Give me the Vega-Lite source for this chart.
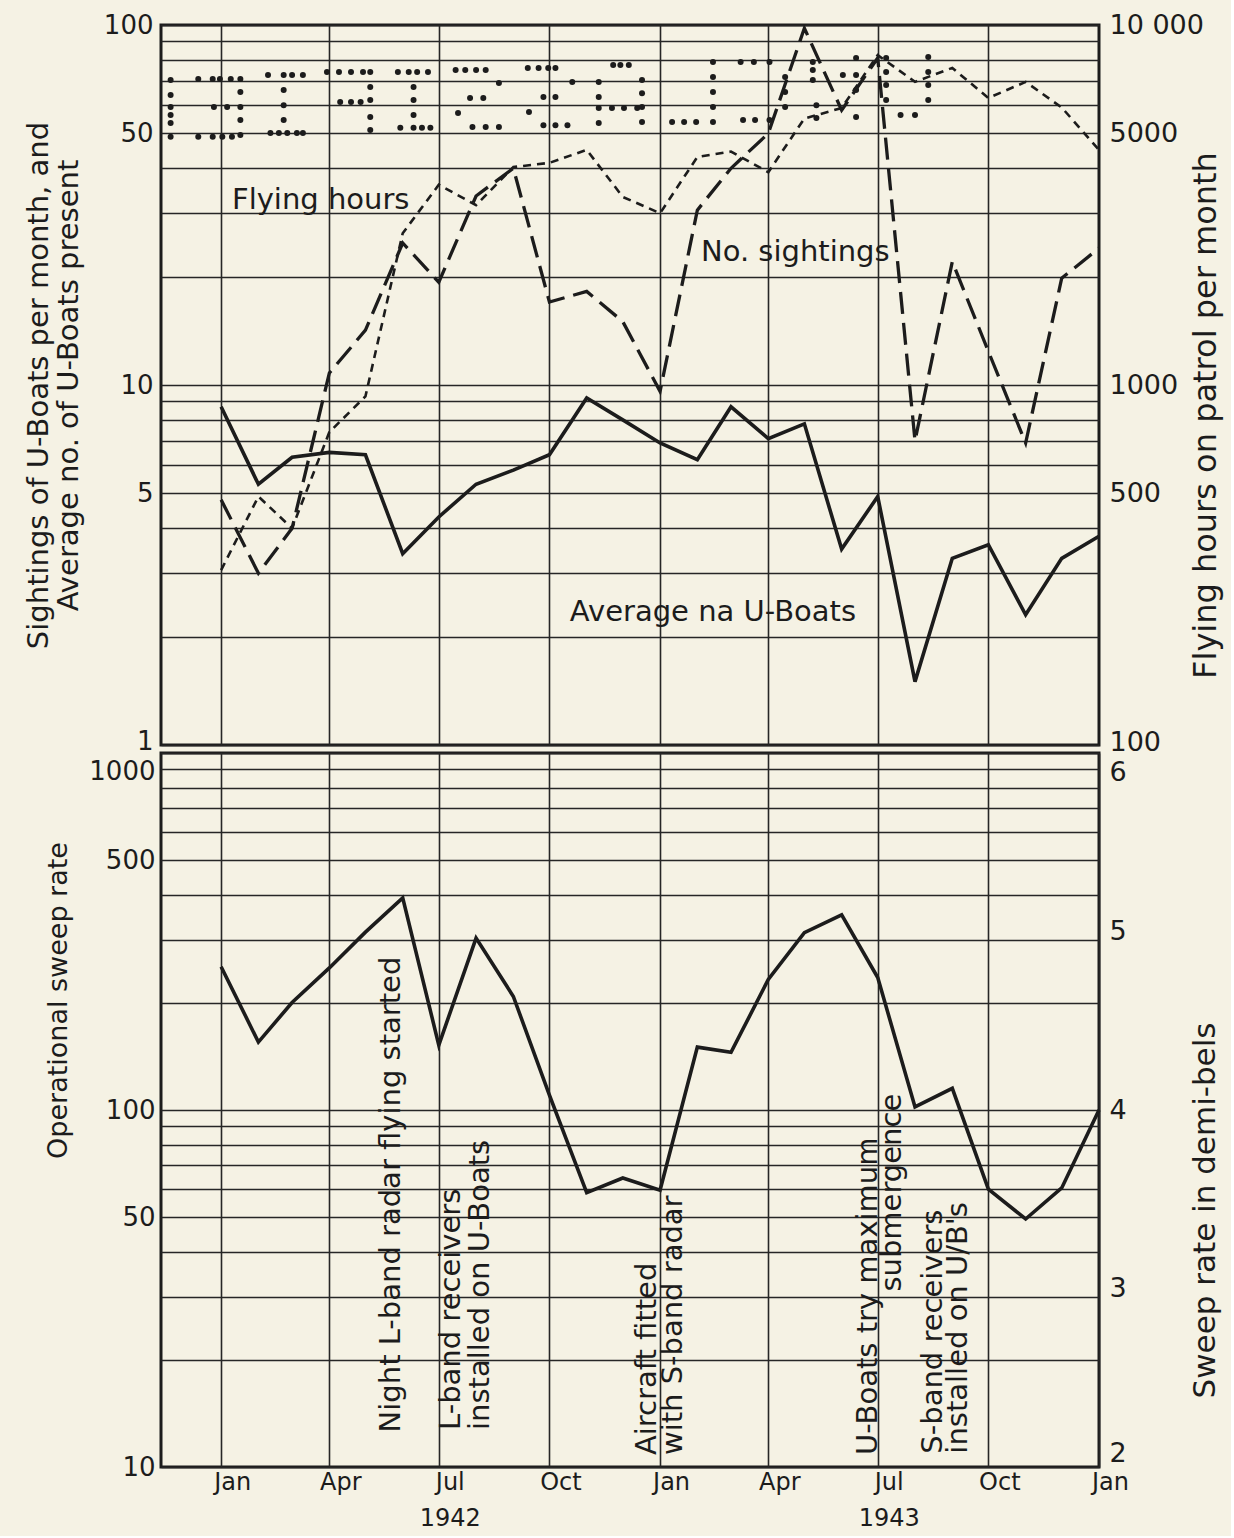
{
  "$schema": "https://vega.github.io/schema/vega-lite/v6.json",
  "background": "#f5f2e4",
  "padding": {"left": 22, "top": 9, "right": 8, "bottom": 4},
  "config": {
    "font": "DejaVu Sans",
    "view": {"stroke": "#1c1c1c", "strokeWidth": 3},
    "axis": {
      "labelFont": "DejaVu Sans", "labelFontSize": 26, "labelColor": "#1c1c1c",
      "titleFont": "DejaVu Sans", "titleFontSize": 29, "titleFontWeight": "normal", "titleColor": "#1c1c1c",
      "gridColor": "#262626", "gridWidth": 1.6, "gridOpacity": 1,
      "domain": false, "ticks": false, "labelOverlap": false, "labelBound": false, "labelFlush": false
    },
    "text": {"font": "DejaVu Sans", "color": "#1c1c1c"}
  },
  "datasets": {
    "sightings": [
      {"date": "1942-01-01", "value": 4.8}, {"date": "1942-02-01", "value": 3.0}, {"date": "1942-03-01", "value": 4.0},
      {"date": "1942-04-01", "value": 10.8}, {"date": "1942-05-01", "value": 14.2}, {"date": "1942-06-01", "value": 24.8},
      {"date": "1942-07-01", "value": 19.3}, {"date": "1942-08-01", "value": 33.5}, {"date": "1942-09-01", "value": 40},
      {"date": "1942-10-01", "value": 17}, {"date": "1942-11-01", "value": 18.2}, {"date": "1942-12-01", "value": 15},
      {"date": "1943-01-01", "value": 9.6}, {"date": "1943-02-01", "value": 30.6}, {"date": "1943-03-01", "value": 40},
      {"date": "1943-04-01", "value": 50}, {"date": "1943-05-01", "value": 98}, {"date": "1943-06-01", "value": 58},
      {"date": "1943-07-01", "value": 81}, {"date": "1943-08-01", "value": 7.0}, {"date": "1943-09-01", "value": 22},
      {"date": "1943-10-01", "value": 12.4}, {"date": "1943-11-01", "value": 6.9}, {"date": "1943-12-01", "value": 19.8},
      {"date": "1944-01-01", "value": 24}
    ],
    "uboats": [
      {"date": "1942-01-01", "value": 8.7}, {"date": "1942-02-01", "value": 5.3}, {"date": "1942-03-01", "value": 6.3},
      {"date": "1942-04-01", "value": 6.5}, {"date": "1942-05-01", "value": 6.4}, {"date": "1942-06-01", "value": 3.4},
      {"date": "1942-07-01", "value": 4.3}, {"date": "1942-08-01", "value": 5.3}, {"date": "1942-09-01", "value": 5.8},
      {"date": "1942-10-01", "value": 6.4}, {"date": "1942-11-01", "value": 9.2}, {"date": "1942-12-01", "value": 8.0},
      {"date": "1943-01-01", "value": 6.9}, {"date": "1943-02-01", "value": 6.2}, {"date": "1943-03-01", "value": 8.7},
      {"date": "1943-04-01", "value": 7.1}, {"date": "1943-05-01", "value": 7.8}, {"date": "1943-06-01", "value": 3.5},
      {"date": "1943-07-01", "value": 4.9}, {"date": "1943-08-01", "value": 1.5}, {"date": "1943-09-01", "value": 3.3},
      {"date": "1943-10-01", "value": 3.6}, {"date": "1943-11-01", "value": 2.3}, {"date": "1943-12-01", "value": 3.3},
      {"date": "1944-01-01", "value": 3.8}
    ],
    "hours": [
      {"date": "1942-01-01", "hours": 306}, {"date": "1942-02-01", "hours": 490}, {"date": "1942-03-01", "hours": 400},
      {"date": "1942-04-01", "hours": 740}, {"date": "1942-05-01", "hours": 930}, {"date": "1942-06-01", "hours": 2640},
      {"date": "1942-07-01", "hours": 3600}, {"date": "1942-08-01", "hours": 3160}, {"date": "1942-09-01", "hours": 4030},
      {"date": "1942-10-01", "hours": 4140}, {"date": "1942-11-01", "hours": 4500}, {"date": "1942-12-01", "hours": 3330},
      {"date": "1943-01-01", "hours": 3000}, {"date": "1943-02-01", "hours": 4300}, {"date": "1943-03-01", "hours": 4450},
      {"date": "1943-04-01", "hours": 3900}, {"date": "1943-05-01", "hours": 5500}, {"date": "1943-06-01", "hours": 5880},
      {"date": "1943-07-01", "hours": 8250}, {"date": "1943-08-01", "hours": 6950}, {"date": "1943-09-01", "hours": 7600},
      {"date": "1943-10-01", "hours": 6270}, {"date": "1943-11-01", "hours": 6950}, {"date": "1943-12-01", "hours": 5900},
      {"date": "1944-01-01", "hours": 4500}
    ],
    "sweep": [
      {"date": "1942-01-01", "rate": 252}, {"date": "1942-02-01", "rate": 155}, {"date": "1942-03-01", "rate": 200},
      {"date": "1942-04-01", "rate": 250}, {"date": "1942-05-01", "rate": 315}, {"date": "1942-06-01", "rate": 393},
      {"date": "1942-07-01", "rate": 152}, {"date": "1942-08-01", "rate": 303}, {"date": "1942-09-01", "rate": 208},
      {"date": "1942-10-01", "rate": 110}, {"date": "1942-11-01", "rate": 58.7}, {"date": "1942-12-01", "rate": 64.5},
      {"date": "1943-01-01", "rate": 59.6}, {"date": "1943-02-01", "rate": 150}, {"date": "1943-03-01", "rate": 145},
      {"date": "1943-04-01", "rate": 232}, {"date": "1943-05-01", "rate": 314}, {"date": "1943-06-01", "rate": 352},
      {"date": "1943-07-01", "rate": 235}, {"date": "1943-08-01", "rate": 102}, {"date": "1943-09-01", "rate": 115},
      {"date": "1943-10-01", "rate": 60}, {"date": "1943-11-01", "rate": 49.5}, {"date": "1943-12-01", "rate": 60.5},
      {"date": "1944-01-01", "rate": 100}
    ],
    "dots": [
      {"date": "1941-11-20", "value": 70.3}, {"date": "1941-11-20", "value": 63.9}, {"date": "1941-11-20", "value": 59.2},
      {"date": "1941-11-20", "value": 56.2}, {"date": "1941-11-20", "value": 53.4}, {"date": "1941-11-20", "value": 48.9},
      {"date": "1941-12-13", "value": 70.8}, {"date": "1941-12-25", "value": 70.8}, {"date": "1941-12-31", "value": 70.8},
      {"date": "1942-01-09", "value": 70.8}, {"date": "1942-01-17", "value": 70.8},
      {"date": "1942-01-17", "value": 65.1}, {"date": "1942-01-17", "value": 59.2}, {"date": "1942-01-17", "value": 54.5},
      {"date": "1942-01-17", "value": 49.5},
      {"date": "1941-12-26", "value": 59.2}, {"date": "1942-01-06", "value": 59.2},
      {"date": "1941-12-13", "value": 48.9}, {"date": "1941-12-25", "value": 48.9}, {"date": "1942-01-02", "value": 48.9},
      {"date": "1942-01-10", "value": 48.9},
      {"date": "1942-02-09", "value": 72.6}, {"date": "1942-02-22", "value": 72.6}, {"date": "1942-03-01", "value": 72.6},
      {"date": "1942-03-10", "value": 72.6},
      {"date": "1942-02-22", "value": 66}, {"date": "1942-02-22", "value": 59.9}, {"date": "1942-02-22", "value": 54.5},
      {"date": "1942-02-11", "value": 50.1}, {"date": "1942-02-18", "value": 50.1}, {"date": "1942-02-25", "value": 50.1},
      {"date": "1942-03-05", "value": 50.1}, {"date": "1942-03-10", "value": 50.1},
      {"date": "1942-03-30", "value": 74}, {"date": "1942-04-09", "value": 74}, {"date": "1942-04-19", "value": 74},
      {"date": "1942-04-29", "value": 74}, {"date": "1942-05-05", "value": 74},
      {"date": "1942-05-05", "value": 67.3}, {"date": "1942-05-05", "value": 61.9}, {"date": "1942-05-05", "value": 55.5},
      {"date": "1942-05-05", "value": 51.1},
      {"date": "1942-04-10", "value": 61.1}, {"date": "1942-04-19", "value": 61.1}, {"date": "1942-04-27", "value": 61.1},
      {"date": "1942-05-28", "value": 74}, {"date": "1942-06-06", "value": 74}, {"date": "1942-06-13", "value": 74},
      {"date": "1942-06-22", "value": 74},
      {"date": "1942-06-10", "value": 67.3}, {"date": "1942-06-10", "value": 61.9}, {"date": "1942-06-10", "value": 56.2},
      {"date": "1942-06-10", "value": 51.8},
      {"date": "1942-05-30", "value": 51.8}, {"date": "1942-06-17", "value": 51.8}, {"date": "1942-06-24", "value": 51.8},
      {"date": "1942-07-15", "value": 75}, {"date": "1942-07-23", "value": 75}, {"date": "1942-08-01", "value": 75},
      {"date": "1942-08-09", "value": 75}, {"date": "1942-08-20", "value": 69},
      {"date": "1942-07-27", "value": 62.7}, {"date": "1942-08-07", "value": 62.7}, {"date": "1942-07-17", "value": 57},
      {"date": "1942-07-29", "value": 52.1}, {"date": "1942-08-09", "value": 52.1}, {"date": "1942-08-20", "value": 52.1},
      {"date": "1942-09-13", "value": 75.9}, {"date": "1942-09-22", "value": 75.9}, {"date": "1942-09-30", "value": 75.9},
      {"date": "1942-10-06", "value": 75.9}, {"date": "1942-10-20", "value": 69.4},
      {"date": "1942-09-26", "value": 63.1}, {"date": "1942-10-06", "value": 63.1}, {"date": "1942-09-14", "value": 57.3},
      {"date": "1942-09-26", "value": 52.7}, {"date": "1942-10-06", "value": 52.7}, {"date": "1942-10-16", "value": 52.7},
      {"date": "1942-11-23", "value": 77.4}, {"date": "1942-11-29", "value": 77.4}, {"date": "1942-12-06", "value": 77.4},
      {"date": "1942-11-11", "value": 69.4}, {"date": "1942-11-11", "value": 63.1}, {"date": "1942-11-11", "value": 58.8},
      {"date": "1942-11-11", "value": 53.4},
      {"date": "1942-11-22", "value": 58.8}, {"date": "1942-12-02", "value": 58.8}, {"date": "1942-12-13", "value": 58.8},
      {"date": "1942-12-17", "value": 70.3}, {"date": "1942-12-17", "value": 64.6}, {"date": "1942-12-17", "value": 59.2},
      {"date": "1942-12-17", "value": 53.8},
      {"date": "1943-02-14", "value": 78.9}, {"date": "1943-02-14", "value": 71.7}, {"date": "1943-02-14", "value": 65.1},
      {"date": "1943-02-14", "value": 59.2},
      {"date": "1943-03-09", "value": 78.9}, {"date": "1943-03-20", "value": 78.9}, {"date": "1943-04-02", "value": 78.9},
      {"date": "1943-01-11", "value": 53.8}, {"date": "1943-01-21", "value": 53.8}, {"date": "1943-01-31", "value": 53.8},
      {"date": "1943-02-14", "value": 53.8},
      {"date": "1943-03-11", "value": 54.5}, {"date": "1943-03-21", "value": 54.5}, {"date": "1943-04-02", "value": 54.5},
      {"date": "1943-04-15", "value": 71.7}, {"date": "1943-04-15", "value": 65.1}, {"date": "1943-04-15", "value": 59.2},
      {"date": "1943-05-08", "value": 78.9}, {"date": "1943-05-08", "value": 75}, {"date": "1943-05-08", "value": 70.3},
      {"date": "1943-05-11", "value": 59.9}, {"date": "1943-05-11", "value": 55.2},
      {"date": "1943-06-02", "value": 72.6},
      {"date": "1943-06-13", "value": 81}, {"date": "1943-06-13", "value": 72.6}, {"date": "1943-06-13", "value": 66},
      {"date": "1943-06-13", "value": 55.5},
      {"date": "1943-07-08", "value": 81}, {"date": "1943-07-08", "value": 74}, {"date": "1943-07-08", "value": 68.1},
      {"date": "1943-07-08", "value": 61.9},
      {"date": "1943-07-20", "value": 56.2}, {"date": "1943-08-01", "value": 56.2},
      {"date": "1943-08-12", "value": 81.5}, {"date": "1943-08-12", "value": 74}, {"date": "1943-08-12", "value": 68.1},
      {"date": "1943-08-12", "value": 61.9}
    ],
    "serieslabels": [
      {"date": "1942-01-10", "value": 32.7, "label": "Flying hours"},
      {"date": "1943-02-04", "value": 23.4, "label": "No. sightings"},
      {"date": "1942-10-18", "value": 2.34, "label": "Average na U-Boats"}
    ],
    "events": [
      {"date": "1942-05-22", "value": 12.5, "text": "Night L-band radar flying started"},
      {"date": "1942-07-11", "value": 12.7, "text": "L-band receivers"},
      {"date": "1942-08-04", "value": 12.7, "text": "installed on U-Boats"},
      {"date": "1942-12-21", "value": 10.8, "text": "Aircraft  fitted"},
      {"date": "1943-01-12", "value": 10.8, "text": "with S-band radar"},
      {"date": "1943-06-23", "value": 10.8, "text": "U-Boats try maximum"},
      {"date": "1943-07-13", "value": 31, "text": "submergence"},
      {"date": "1943-08-16", "value": 10.9, "text": "S-band receivers"},
      {"date": "1943-09-06", "value": 10.9, "text": "installed on U/B's"}
    ],
    "demibels": [{"db": 2}, {"db": 6}]
  },
  "bounds": "flush",
  "spacing": 8,
  "vconcat": [
    {
      "width": 938,
      "height": 720,
      "layer": [
        {
          "layer": [
            {
              "data": {"name": "uboats"},
              "mark": {"type": "line", "color": "#1c1c1c", "strokeWidth": 3.6, "strokeJoin": "miter"},
              "encoding": {
                "x": {
                  "field": "date", "type": "temporal",
                  "scale": {"type": "utc", "domain": [{"year": 1941, "month": 11, "date": 12, "utc": true}, {"year": 1944, "month": 1, "date": 1, "utc": true}]},
                  "axis": {
                    "title": null, "labels": false, "grid": true,
                    "values": [
                      {"year": 1942, "month": 1, "date": 1, "utc": true}, {"year": 1942, "month": 4, "date": 1, "utc": true},
                      {"year": 1942, "month": 7, "date": 1, "utc": true}, {"year": 1942, "month": 10, "date": 1, "utc": true},
                      {"year": 1943, "month": 1, "date": 1, "utc": true}, {"year": 1943, "month": 4, "date": 1, "utc": true},
                      {"year": 1943, "month": 7, "date": 1, "utc": true}, {"year": 1943, "month": 10, "date": 1, "utc": true}
                    ]
                  }
                },
                "y": {
                  "field": "value", "type": "quantitative",
                  "scale": {"type": "log", "domain": [1, 100]},
                  "axis": {
                    "title": ["Sightings of U-Boats per month, and", "Average no. of U-Boats present"],
                    "titleFontSize": 29, "titleLineHeight": 30, "titlePadding": 20, "labelPadding": 8, "grid": true,
                    "labelOffset": {"condition": {"test": "datum.value == 1", "value": -4}, "value": 0},
                    "values": [1, 2, 3, 4, 5, 6, 7, 8, 9, 10, 20, 30, 40, 50, 60, 70, 80, 90, 100],
                    "labelExpr": "indexof([1, 5, 10, 50, 100], datum.value) >= 0 ? format(datum.value, 'd') : ''"
                  }
                }
              }
            },
            {
              "data": {"name": "sightings"},
              "mark": {"type": "line", "color": "#1c1c1c", "strokeWidth": 3.3, "strokeDash": [22, 9]},
              "encoding": {
                "x": {"field": "date", "type": "temporal"},
                "y": {"field": "value", "type": "quantitative"}
              }
            },
            {
              "data": {"name": "dots"},
              "mark": {"type": "point", "filled": true, "shape": "circle", "size": 36, "color": "#1c1c1c", "opacity": 1},
              "encoding": {
                "x": {"field": "date", "type": "temporal"},
                "y": {"field": "value", "type": "quantitative"}
              }
            },
            {
              "data": {"name": "serieslabels"},
              "mark": {"type": "text", "align": "left", "baseline": "middle", "fontSize": 29},
              "encoding": {
                "x": {"field": "date", "type": "temporal"},
                "y": {"field": "value", "type": "quantitative"},
                "text": {"field": "label", "type": "nominal"}
              }
            }
          ]
        },
        {
          "data": {"name": "hours"},
          "mark": {"type": "line", "color": "#1c1c1c", "strokeWidth": 2.6, "strokeDash": [8, 6]},
          "encoding": {
            "x": {"field": "date", "type": "temporal"},
            "y": {
              "field": "hours", "type": "quantitative",
              "scale": {"type": "log", "domain": [100, 10000]},
              "axis": {
                "orient": "right", "grid": false, "title": "Flying hours on patrol per month",
                "titleFontSize": 32, "titleAngle": 270, "titleX": 106, "titleY": 390, "titleBaseline": "middle", "titleAlign": "center",
                "labelPadding": 10, "labelFontSize": 27,
                "labelOffset": {"condition": {"test": "datum.value == 100", "value": -3}, "value": 0},
                "values": [100, 500, 1000, 5000, 10000],
                "labelExpr": "datum.value == 10000 ? '10 000' : format(datum.value, 'd')"
              }
            }
          }
        }
      ],
      "resolve": {"scale": {"y": "independent"}}
    },
    {
      "width": 938,
      "height": 714,
      "layer": [
        {
          "layer": [
            {
              "data": {"name": "sweep"},
              "mark": {"type": "line", "color": "#1c1c1c", "strokeWidth": 3.6, "strokeJoin": "miter"},
              "encoding": {
                "x": {
                  "field": "date", "type": "temporal",
                  "scale": {"type": "utc", "domain": [{"year": 1941, "month": 11, "date": 12, "utc": true}, {"year": 1944, "month": 1, "date": 1, "utc": true}]},
                  "axis": {
                    "title": null, "grid": true, "labelPadding": 3, "labelOffset": 11, "labelFontSize": 24,
                    "labelBaseline": "top", "labelLineHeight": 36,
                    "values": [
                      {"year": 1942, "month": 1, "date": 1, "utc": true}, {"year": 1942, "month": 4, "date": 1, "utc": true},
                      {"year": 1942, "month": 7, "date": 1, "utc": true}, {"year": 1942, "month": 10, "date": 1, "utc": true},
                      {"year": 1943, "month": 1, "date": 1, "utc": true}, {"year": 1943, "month": 4, "date": 1, "utc": true},
                      {"year": 1943, "month": 7, "date": 1, "utc": true}, {"year": 1943, "month": 10, "date": 1, "utc": true},
                      {"year": 1944, "month": 1, "date": 1, "utc": true}
                    ],
                    "labelExpr": "[utcFormat(datum.value, '%b'), utcmonth(datum.value) == 6 ? utcFormat(datum.value, '%Y') : '']"
                  }
                },
                "y": {
                  "field": "rate", "type": "quantitative",
                  "scale": {"type": "log", "domain": [10, 1000]},
                  "axis": {
                    "title": "Operational  sweep  rate", "titleFontSize": 27, "titlePadding": 16, "titleY": 247,
                    "labelPadding": 6, "grid": true,
                    "labelOffset": {"condition": {"test": "datum.value == 1000", "value": 18}, "value": 0},
                    "values": [10, 20, 30, 40, 50, 60, 70, 80, 90, 100, 200, 300, 400, 500, 600, 700, 800, 900, 1000],
                    "labelExpr": "indexof([10, 50, 100, 500, 1000], datum.value) >= 0 ? format(datum.value, 'd') : ''"
                  }
                }
              }
            },
            {
              "data": {"name": "events"},
              "mark": {"type": "text", "angle": 270, "align": "left", "baseline": "middle", "fontSize": 29},
              "encoding": {
                "x": {"field": "date", "type": "temporal"},
                "y": {"field": "value", "type": "quantitative"},
                "text": {"field": "text", "type": "nominal"}
              }
            }
          ]
        },
        {
          "data": {"name": "demibels"},
          "mark": {"type": "point", "opacity": 0},
          "encoding": {
            "y": {
              "field": "db", "type": "quantitative",
              "scale": {"domain": [2, 6], "zero": false, "nice": false},
              "axis": {
                "orient": "right", "grid": false, "title": "Sweep rate in demi-bels",
                "titleFontSize": 31, "titleAngle": 270, "titleX": 106, "titleY": 457, "titleBaseline": "middle", "titleAlign": "center",
                "labelPadding": 10, "labelFontSize": 27,
                "labelOffset": {"condition": {"test": "datum.value == 6", "value": 19}, "value": 0},
                "labelBaseline": {"condition": {"test": "datum.value == 2", "value": "bottom"}, "value": "middle"},
                "values": [2, 3, 4, 5, 6], "format": "d"
              }
            }
          }
        }
      ],
      "resolve": {"scale": {"y": "independent"}}
    }
  ]
}
